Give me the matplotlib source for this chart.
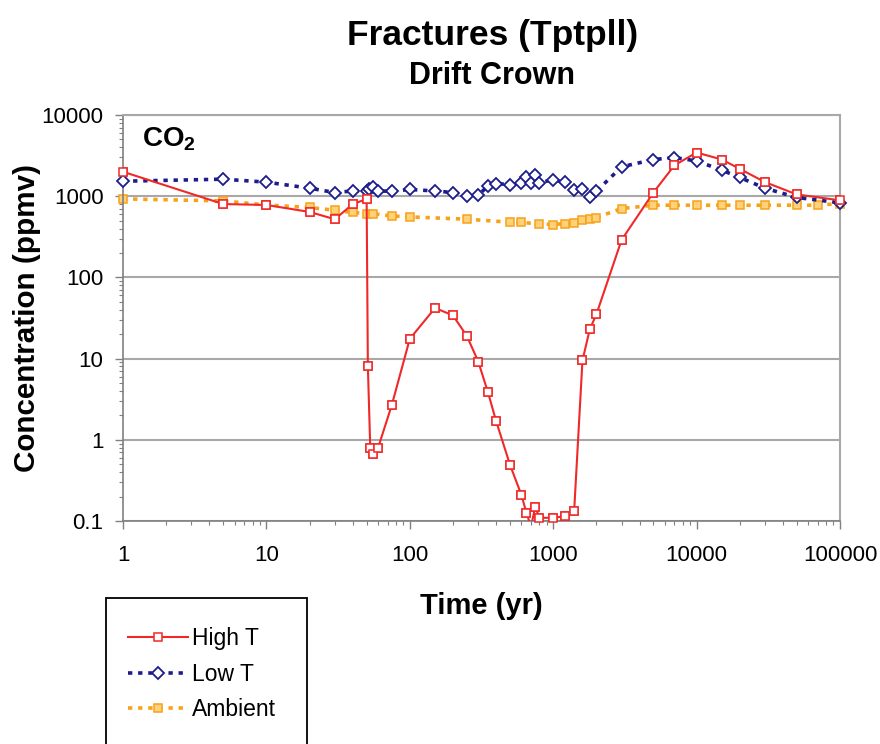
"""
Fractures (Tptpll) - Drift Crown
CO2 concentration vs time for three thermal cases, log-log.
"""
import matplotlib
matplotlib.use("Agg")
import matplotlib.pyplot as plt
from matplotlib.patches import Rectangle
from matplotlib.ticker import FixedLocator, LogLocator, NullFormatter

plt.rcParams["font.family"] = ["Liberation Sans", "DejaVu Sans"]
plt.rcParams["mathtext.fontset"] = "custom"
plt.rcParams["mathtext.rm"] = "Liberation Sans"
plt.rcParams["mathtext.bf"] = "Liberation Sans:bold"

# --- data --------------------------------------------------------------
high_t_time = [1, 5, 10, 20, 30, 40, 50, 51, 53, 55, 60, 75, 100, 150, 200,
               250, 300, 350, 400, 500, 600, 650, 700, 750, 800, 1000, 1200,
               1400, 1600, 1800, 2000, 3000, 5000, 7000, 10000, 15000, 20000,
               30000, 50000, 100000]
high_t_co2 = [2000, 800, 780, 640, 520, 800, 920, 8, 0.79, 0.67, 0.79, 2.7,
              17.5, 42, 34, 19, 9.2, 3.9, 1.7, 0.49, 0.21, 0.127, 0.085, 0.15,
              0.109, 0.11, 0.114, 0.133, 9.5, 23, 35, 290, 1110, 2400, 3450,
              2830, 2170, 1490, 1050, 890]

low_t_time = [1, 5, 10, 20, 30, 40, 50, 52, 55, 60, 75, 100, 150, 200, 250,
              300, 350, 400, 500, 600, 650, 700, 750, 800, 1000, 1200, 1400,
              1600, 1800, 2000, 3000, 5000, 7000, 10000, 15000, 20000, 30000,
              50000, 100000]
low_t_co2 = [1530, 1620, 1490, 1255, 1110, 1160, 1160, 1240, 1280, 1160, 1150,
             1210, 1160, 1110, 1010, 1030, 1330, 1430, 1390, 1470, 1730, 1460,
             1810, 1460, 1600, 1490, 1185, 1210, 980, 1150, 2300, 2830, 2990,
             2720, 2090, 1700, 1255, 964, 830]

ambient_time = [1, 5, 10, 20, 30, 40, 50, 55, 75, 100, 250, 500, 600, 800,
                1000, 1200, 1400, 1600, 1800, 2000, 3000, 5000, 7000, 10000,
                15000, 20000, 30000, 50000, 70000, 100000]
ambient_co2 = [927, 875, 780, 726, 672, 630, 612, 610, 571, 556, 521, 478, 475,
               456, 448, 460, 469, 506, 521, 546, 705, 774, 774, 774, 774, 774,
               774, 774, 774, 813]

x_ticks = [1, 10, 100, 1000, 10000, 100000]
x_tick_labels = ["1", "10", "100", "1000", "10000", "100000"]
y_ticks = [0.1, 1, 10, 100, 1000, 10000]
y_tick_labels = ["0.1", "1", "10", "100", "1000", "10000"]

W, H = 880, 744
fig = plt.figure(figsize=(W / 100, H / 100), dpi=100)
ax = fig.add_axes([123 / W, 1 - 521 / H, (840 - 123) / W, (521 - 115) / H])

red, navy, orange = "#F02828", "#1C1C8C", "#F7A21B"
dots = (0, (1.2, 1.6))

ax.plot(high_t_time, high_t_co2, color=red, lw=1.5, marker="s",
        ms=5.5, mfc="white", mec=red, mew=1.1, label="High T", zorder=4)
# markers at the frame edges are not cut off in the original
shown = [(t, c) for t, c in zip(high_t_time, high_t_co2) if c >= 0.1]
ax.plot([t for t, _ in shown], [c for _, c in shown], ls="none", marker="s",
        ms=5.5, mfc="white", mec=red, mew=1.1, zorder=4, clip_on=False)
ax.plot(low_t_time, low_t_co2, color=navy, lw=2.6, ls=dots,
        marker="D", ms=6.5, mfc="white", mec=navy, mew=1.3,
        label="Low T", zorder=3, clip_on=False)
ax.plot(ambient_time, ambient_co2, color=orange, lw=2.6, ls=dots,
        marker="s", ms=6, mfc="#FFD27A", mec=orange, mew=1.1,
        label="Ambient", zorder=2, clip_on=False)

ax.set_xscale("log")
ax.set_yscale("log")
ax.set_xlim(1, 100000)
ax.set_ylim(0.1, 10000)

ax.xaxis.set_major_locator(FixedLocator(x_ticks))
ax.set_xticklabels(x_tick_labels)
ax.yaxis.set_major_locator(FixedLocator(y_ticks))
ax.set_yticklabels(y_tick_labels)
ax.xaxis.set_minor_locator(LogLocator(base=10, subs=range(2, 10), numticks=20))
ax.yaxis.set_minor_locator(LogLocator(base=10, subs=range(2, 10), numticks=20))
ax.xaxis.set_minor_formatter(NullFormatter())
ax.yaxis.set_minor_formatter(NullFormatter())

ax.tick_params(axis="both", which="major", direction="out", length=6,
               width=1, color="#808080", labelsize=16)
ax.tick_params(axis="both", which="minor", direction="out", length=3,
               width=0.8, color="#808080")
ax.tick_params(axis="x", which="major", pad=11)
ax.tick_params(axis="y", which="major", pad=8)

ax.grid(axis="y", which="major", color="#A8A8A8", lw=1.5)
ax.set_axisbelow(True)
for side in ["left", "bottom"]:
    ax.spines[side].set_color("#808080")
    ax.spines[side].set_linewidth(1.2)
for side in ["top", "right"]:
    ax.spines[side].set_color("#A8A8A8")
    ax.spines[side].set_linewidth(1.5)

ax.set_xlabel("Time (yr)", fontsize=21, fontweight="bold", labelpad=19)
ax.set_ylabel("Concentration (ppmv)", fontsize=21.3, fontweight="bold",
              labelpad=0.5)

ax.text(0.026, 0.94, r"$\mathbf{CO_2}$", transform=ax.transAxes,
        fontsize=20, va="center", ha="left")

fig.text(493 / W, 1 - 35 / H, "Fractures (Tptpll)", fontsize=25.5,
         fontweight="bold", ha="center", va="center")
fig.text(492 / W, 1 - 76 / H, "Drift Crown", fontsize=22,
         fontweight="bold", ha="center", va="center")

# legend box runs off the bottom of the page in the original
fig.patches.append(Rectangle((106 / W, -0.05), (307 - 106) / W,
                             1 - 598 / H + 0.05, transform=fig.transFigure,
                             fill=False, edgecolor="black", lw=1.3,
                             clip_on=False))
fig.legend(loc="upper left", bbox_to_anchor=(128 / W, 1 - 627 / H),
           frameon=False, fontsize=16.5, handlelength=2.6,
           handletextpad=0.2, borderpad=0, borderaxespad=0,
           labelspacing=0.55)

fig.savefig("out.png", dpi=100)
